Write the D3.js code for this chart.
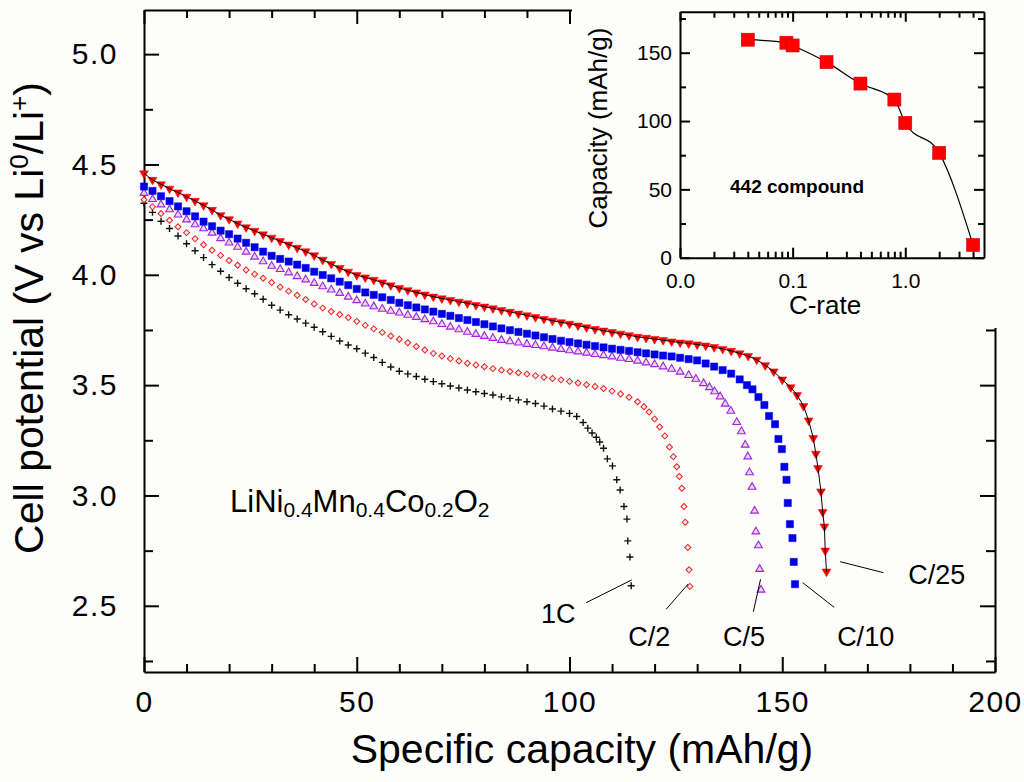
<!DOCTYPE html>
<html>
<head>
<meta charset="utf-8">
<script src="https://cdn.jsdelivr.net/npm/d3@7"></script>
<style>
  body { margin: 0; background: #fdfdfb; }
  svg { display: block; }
  text { font-family: "Liberation Sans", Arial, Helvetica, sans-serif; fill: #000; }
</style>
</head>
<body>
<div id="chart"></div>
<script>
// ---- data: [capacity mAh/g, potential V] ----
var rateC25 = [[0,4.46],[2,4.43],[4,4.41],[6,4.39],[8,4.373],[10,4.354],[12,4.335],[14,4.315],[16,4.294],[18,4.27],[20,4.252],[22,4.232],[24,4.215],[26,4.199],[28,4.183],[30,4.168],[32,4.153],[34,4.137],[36,4.122],[38,4.106],[40,4.088],[42,4.068],[44,4.049],[46,4.03],[48,4.014],[50,3.999],[52,3.988],[54,3.977],[56,3.965],[58,3.952],[60,3.94],[62,3.93],[64,3.92],[66,3.91],[68,3.901],[70,3.893],[72,3.886],[74,3.878],[76,3.871],[78,3.863],[80,3.856],[82,3.848],[84,3.84],[86,3.832],[88,3.824],[90,3.816],[92,3.808],[94,3.8],[96,3.792],[98,3.785],[100,3.778],[102,3.77],[104,3.762],[106,3.754],[108,3.747],[110,3.74],[112,3.733],[114,3.726],[116,3.719],[118,3.714],[120,3.709],[122,3.704],[124,3.698],[126,3.693],[128,3.689],[130,3.684],[132,3.679],[134,3.672],[136,3.664],[138,3.655],[140,3.644],[142,3.632],[144,3.615],[146,3.59],[148,3.562],[150,3.525],[152,3.49],[153.5,3.455],[155,3.405],[156.2,3.34],[157.3,3.26],[157.9,3.189],[158.4,3.124],[159.1,3.018],[159.5,2.925],[159.9,2.859],[160.1,2.75],[160.4,2.655]];

var rateC10 = [[0,4.4],[2,4.38],[4,4.356],[6,4.334],[8,4.31],[10,4.288],[12,4.265],[14,4.241],[16,4.22],[18,4.2],[20,4.184],[22,4.164],[24,4.145],[26,4.125],[28,4.105],[30,4.086],[32,4.072],[34,4.06],[36,4.046],[38,4.031],[40,4.014],[42,3.999],[44,3.984],[46,3.969],[48,3.953],[50,3.936],[52,3.92],[54,3.909],[56,3.898],[58,3.886],[60,3.873],[62,3.862],[64,3.852],[66,3.843],[68,3.833],[70,3.823],[72,3.814],[74,3.804],[76,3.795],[78,3.786],[80,3.776],[82,3.766],[84,3.757],[86,3.749],[88,3.741],[90,3.733],[92,3.725],[94,3.717],[96,3.709],[98,3.701],[100,3.695],[102,3.689],[104,3.683],[106,3.677],[108,3.671],[110,3.665],[112,3.66],[114,3.655],[116,3.649],[118,3.644],[120,3.639],[122,3.634],[124,3.63],[126,3.624],[128,3.618],[130,3.612],[132,3.598],[134,3.584],[136,3.568],[138,3.552],[140,3.526],[141.7,3.5],[143,3.481],[144.4,3.446],[145.8,3.41],[146.9,3.36],[148.3,3.323],[149.1,3.256],[149.9,3.21],[150.5,3.13],[151,3.071],[151.3,2.966],[151.8,2.87],[152.4,2.807],[152.7,2.699],[153,2.598]];

var rateC5 = [[0,4.37],[2,4.342],[4,4.318],[6,4.296],[8,4.272],[10,4.25],[12,4.228],[14,4.21],[16,4.19],[18,4.165],[20,4.145],[22,4.126],[24,4.104],[26,4.081],[28,4.06],[30,4.04],[32,4.025],[34,4.01],[36,3.993],[38,3.978],[40,3.962],[42,3.947],[44,3.932],[46,3.917],[48,3.9],[50,3.884],[52,3.869],[54,3.856],[56,3.845],[58,3.836],[60,3.828],[62,3.818],[64,3.808],[66,3.798],[68,3.788],[70,3.776],[72,3.764],[74,3.752],[76,3.741],[78,3.731],[80,3.722],[82,3.713],[84,3.704],[86,3.698],[88,3.692],[90,3.686],[92,3.681],[94,3.675],[96,3.669],[98,3.663],[100,3.657],[102,3.652],[104,3.646],[106,3.64],[108,3.635],[110,3.629],[112,3.623],[114,3.617],[116,3.61],[118,3.602],[120,3.594],[122,3.584],[124,3.573],[126,3.56],[128,3.545],[129.7,3.528],[131.5,3.508],[132.9,3.49],[134.1,3.471],[135.4,3.448],[136.6,3.415],[137.9,3.383],[139.3,3.332],[140.4,3.29],[141.3,3.229],[141.9,3.176],[142.3,3.104],[142.9,3.038],[143.5,2.93],[143.8,2.836],[144.4,2.773],[144.7,2.666],[145,2.572]];

var rateC2 = [[0,4.34],[2,4.308],[4,4.278],[6,4.247],[8,4.218],[10,4.191],[12,4.163],[14,4.136],[16,4.111],[18,4.088],[20,4.065],[22,4.043],[24,4.022],[26,4.003],[28,3.984],[30,3.965],[32,3.945],[34,3.926],[36,3.907],[38,3.888],[40,3.868],[42,3.849],[44,3.834],[46,3.82],[48,3.806],[50,3.789],[52,3.771],[54,3.755],[56,3.739],[58,3.723],[60,3.708],[62,3.692],[64,3.675],[66,3.659],[68,3.644],[70,3.632],[72,3.62],[74,3.609],[76,3.599],[78,3.591],[80,3.583],[82,3.575],[84,3.568],[86,3.562],[88,3.556],[90,3.55],[92,3.543],[94,3.536],[96,3.53],[98,3.524],[100,3.517],[102,3.51],[104,3.502],[106,3.494],[108,3.485],[110,3.473],[112,3.46],[114,3.445],[116,3.425],[117.5,3.402],[118.7,3.378],[120,3.347],[121.2,3.31],[122.4,3.27],[123.5,3.22],[124.4,3.176],[125.2,3.13],[125.8,3.086],[126.4,3.033],[126.9,2.95],[127.2,2.879],[127.8,2.764],[128.1,2.663],[128.3,2.588]];

var rate1C = [[0,4.324],[2,4.283],[4,4.243],[6,4.21],[8,4.176],[10,4.141],[12,4.109],[14,4.078],[16,4.046],[18,4.016],[20,3.988],[22,3.962],[24,3.937],[26,3.914],[28,3.889],[30,3.862],[32,3.84],[34,3.819],[36,3.8],[38,3.781],[40,3.762],[42,3.742],[44,3.721],[46,3.7],[48,3.682],[50,3.665],[52,3.645],[54,3.625],[56,3.603],[58,3.582],[60,3.563],[62,3.551],[64,3.539],[66,3.527],[68,3.516],[70,3.506],[72,3.496],[74,3.487],[76,3.478],[78,3.47],[80,3.462],[82,3.455],[84,3.447],[86,3.44],[88,3.433],[90,3.425],[92,3.417],[94,3.405],[96,3.392],[98,3.382],[100,3.372],[101.7,3.358],[103.2,3.331],[104.3,3.305],[105.3,3.283],[106.3,3.264],[107.1,3.242],[108,3.214],[108.9,3.166],[110.1,3.134],[111.1,3.071],[111.9,3.025],[112.8,2.95],[113.5,2.893],[113.7,2.794],[114.2,2.721],[114.5,2.591]];

// inset: capacity vs C-rate
var insetRates = [0.04, 0.088, 0.1, 0.2, 0.4, 0.8, 1.0, 2.0, 4.0];
var insetCapacity = [159.5, 157.3, 155.3, 143.1, 127.4, 115.7, 98.6, 76.7, 9.3];

// tick values
var capMajor = [0, 50, 100, 150, 200];
var capMinor = [10, 20, 30, 40, 60, 70, 80, 90, 110, 120, 130, 140, 160, 170, 180, 190];
var voltMajor = [2.5, 3.0, 3.5, 4.0, 4.5, 5.0];
var voltMinor = [2.25, 2.75, 3.25, 3.75, 4.25, 4.75];
var rateMajor = [0.01, 0.1, 1];
var rateMinor = [0.02, 0.03, 0.04, 0.05, 0.06, 0.07, 0.08, 0.09, 0.2, 0.3, 0.4, 0.5, 0.6, 0.7, 0.8, 0.9, 2, 3, 4];
var insetCapMajor = [0, 50, 100, 150];
var insetCapMinor = [25, 75, 125, 175];

// curve labels: name, text position [cap, V], leader line [[cap, V], [cap, V]]
var curveLabels = ["1C", "C/2", "C/5", "C/10", "C/25"];
var labelPos = [[93.3, 2.42], [113.8, 2.32], [136.1, 2.32], [162.9, 2.32], [179.6, 2.6]];
var leaderLines = [
  [[103.9, 2.514], [114.6, 2.617]],
  [[122.7, 2.484], [127.9, 2.599]],
  [[143.2, 2.473], [144.9, 2.62]],
  [[162.2, 2.493], [154.8, 2.605]],
  [[173.8, 2.65], [163.6, 2.7]]
];

var FONT = '"Liberation Sans", Arial, Helvetica, sans-serif';
var BG = "#fdfdfb";
var W = 1024, H = 782;

var svg = d3.select("#chart").append("svg")
    .attr("width", W)
    .attr("height", H);

svg.append("rect").attr("width", W).attr("height", H).attr("fill", BG);

var x = d3.scaleLinear().domain([0, 200]).range([144, 995]);
var y = d3.scaleLinear().domain([2.2, 5.2]).range([672, 10]);

// helper: draw an axis, style it
function drawAxis(axis, tx, ty, fontSize, keepDomain) {
    var g = svg.append("g")
        .attr("transform", "translate(" + tx + "," + ty + ")")
        .call(axis)
        .attr("font-family", FONT)
        .attr("font-size", fontSize);
    g.selectAll("line").attr("stroke", "#000").attr("stroke-width", 2);
    g.selectAll("text").attr("fill", "#000");
    if (keepDomain) {
        g.select(".domain").attr("stroke", "#000").attr("stroke-width", 2);
    } else {
        g.select(".domain").remove();
    }
    return g;
}

// main frame + ticks
drawAxis(d3.axisBottom(x).tickValues(capMajor).tickSize(-15).tickSizeOuter(0)
    .tickPadding(19).tickFormat(d3.format("d")), 0, 672, 30, true)
    .selectAll("text").attr("letter-spacing", 1.5);
drawAxis(d3.axisBottom(x).tickValues(capMinor).tickSize(-8).tickFormat(""), 0, 672, 10, false);
drawAxis(d3.axisTop(x).tickValues(capMajor).tickSize(-14).tickSizeOuter(0).tickFormat(""), 0, 10, 10, true);
drawAxis(d3.axisTop(x).tickValues(capMinor).tickSize(-8).tickFormat(""), 0, 10, 10, false);
drawAxis(d3.axisLeft(y).tickValues(voltMajor).tickSize(-15).tickSizeOuter(0)
    .tickPadding(26).tickFormat(d3.format(".1f")), 144, 0, 30, true)
    .selectAll("text").attr("letter-spacing", 1.5);
drawAxis(d3.axisLeft(y).tickValues(voltMinor).tickSize(-9).tickFormat(""), 144, 0, 10, false);
drawAxis(d3.axisRight(y).tickValues(voltMajor).tickSize(-15).tickSizeOuter(0).tickFormat(""), 995, 0, 10, true);
drawAxis(d3.axisRight(y).tickValues(voltMinor).tickSize(-9).tickFormat(""), 995, 0, 10, false);

// axis titles
svg.append("text")
    .attr("x", 582)
    .attr("y", 763)
    .attr("text-anchor", "middle")
    .attr("font-size", 41)
    .text("Specific capacity (mAh/g)");

var yTitle = svg.append("text")
    .attr("transform", "translate(43,318) rotate(-90)")
    .attr("text-anchor", "middle")
    .attr("font-size", 41);
yTitle.append("tspan").text("Cell potential (V vs Li");
yTitle.append("tspan").attr("font-size", 26).attr("dy", -15).text("0");
yTitle.append("tspan").attr("dy", 15).text("/Li");
yTitle.append("tspan").attr("font-size", 26).attr("dy", -15).text("+");
yTitle.append("tspan").attr("dy", 15).text(")");

// ---- inset ----
// panel hides the main frame behind it
svg.append("rect")
    .attr("x", 572).attr("y", 0)
    .attr("width", W - 572).attr("height", 328)
    .attr("fill", BG);

var xi = d3.scaleLog().domain([0.01, 5]).range([680, 984]);
var yi = d3.scaleLinear().domain([0, 180]).range([257.7, 11.7]);

drawAxis(d3.axisBottom(xi).tickValues(rateMajor).tickSize(-10).tickSizeOuter(0)
    .tickPadding(15).tickFormat(d3.format(".1f")), 0, 257.7, 21, true);
drawAxis(d3.axisBottom(xi).tickValues(rateMinor).tickSize(-6).tickFormat(""), 0, 257.7, 10, false);
drawAxis(d3.axisTop(xi).tickValues(rateMajor).tickSize(-10).tickSizeOuter(0).tickFormat(""), 0, 11.7, 10, true);
drawAxis(d3.axisTop(xi).tickValues(rateMinor).tickSize(-6).tickFormat(""), 0, 11.7, 10, false);
drawAxis(d3.axisLeft(yi).tickValues(insetCapMajor).tickSize(-10).tickSizeOuter(0)
    .tickPadding(8).tickFormat(d3.format("d")), 680, 0, 21, true);
drawAxis(d3.axisLeft(yi).tickValues(insetCapMinor).tickSize(-6).tickFormat(""), 680, 0, 10, false);
drawAxis(d3.axisRight(yi).tickValues(insetCapMajor).tickSize(-10).tickSizeOuter(0).tickFormat(""), 984, 0, 10, true);
drawAxis(d3.axisRight(yi).tickValues(insetCapMinor).tickSize(-6).tickFormat(""), 984, 0, 10, false);

var insetData = insetRates.map(function (r, i) { return { rate: r, cap: insetCapacity[i] }; });

var insetLine = d3.line()
    .x(function (d) { return xi(d.rate); })
    .y(function (d) { return yi(d.cap); })
    .curve(d3.curveMonotoneX);

svg.append("path")
    .datum(insetData)
    .attr("d", insetLine)
    .attr("fill", "none")
    .attr("stroke", "#000")
    .attr("stroke-width", 1.2);

svg.selectAll(".insetPt")
    .data(insetData)
    .enter().append("rect")
    .attr("class", "insetPt")
    .attr("x", function (d) { return xi(d.rate) - 6.5; })
    .attr("y", function (d) { return yi(d.cap) - 6.5; })
    .attr("width", 13)
    .attr("height", 13)
    .attr("fill", "#ff0000")
    .attr("stroke", "#d00000")
    .attr("stroke-width", 0.6);

svg.append("text")
    .attr("x", 730).attr("y", 193)
    .attr("font-size", 19)
    .attr("font-weight", "bold")
    .text("442 compound");

svg.append("text")
    .attr("x", 825).attr("y", 314)
    .attr("text-anchor", "middle")
    .attr("font-size", 26)
    .text("C-rate");

svg.append("text")
    .attr("transform", "translate(607,128) rotate(-90)")
    .attr("text-anchor", "middle")
    .attr("font-size", 26)
    .text("Capacity (mAh/g)");

// ---- discharge curves ----
function markers(data, cls, draw) {
    var g = svg.append("g").attr("class", cls);
    g.selectAll("path")
        .data(data)
        .enter().append("path")
        .attr("transform", function (d) { return "translate(" + x(d[0]) + "," + y(d[1]) + ")"; })
        .call(draw);
}

// 1C: black plus
markers(rate1C, "c1", function (s) {
    s.attr("d", "M-3.5,0H3.5M0,-3.5V3.5")
        .attr("stroke", "#111")
        .attr("stroke-width", 1.4)
        .attr("fill", "none");
});

// C/2: open red diamonds
markers(rateC2, "c2", function (s) {
    s.attr("d", d3.symbol().type(d3.symbolSquare).size(18))
        .attr("transform", function (d) { return "translate(" + x(d[0]) + "," + y(d[1]) + ") rotate(45)"; })
        .attr("stroke", "#f02020")
        .attr("stroke-width", 1)
        .attr("fill", "#ececec");
});

// C/5: open purple triangles
markers(rateC5, "c5", function (s) {
    s.attr("d", d3.symbol().type(d3.symbolTriangle).size(26))
        .attr("stroke", "#a820e0")
        .attr("stroke-width", 1.1)
        .attr("fill", "#dcdcdc");
});

// C/10: blue squares
markers(rateC10, "c10", function (s) {
    s.attr("d", d3.symbol().type(d3.symbolSquare).size(52))
        .attr("fill", "#0000e6")
        .attr("stroke", "#0000e6")
        .attr("stroke-width", 0.5);
});

// C/25: red down triangles with a black line through them
markers(rateC25, "c25", function (s) {
    s.attr("d", d3.symbol().type(d3.symbolTriangle).size(34))
        .attr("transform", function (d) { return "translate(" + x(d[0]) + "," + y(d[1]) + ") rotate(180)"; })
        .attr("fill", "#ff0000")
        .attr("stroke", "#ff0000")
        .attr("stroke-width", 0.5);
});

var vLine = d3.line()
    .x(function (d) { return x(d[0]); })
    .y(function (d) { return y(d[1]); });

svg.append("path")
    .datum(rateC25)
    .attr("d", vLine)
    .attr("fill", "none")
    .attr("stroke", "#000")
    .attr("stroke-width", 1);

// curve labels and leader lines
leaderLines.forEach(function (seg) {
    svg.append("line")
        .attr("x1", x(seg[0][0])).attr("y1", y(seg[0][1]))
        .attr("x2", x(seg[1][0])).attr("y2", y(seg[1][1]))
        .attr("stroke", "#000")
        .attr("stroke-width", 1);
});

curveLabels.forEach(function (name, i) {
    svg.append("text")
        .attr("x", x(labelPos[i][0]))
        .attr("y", y(labelPos[i][1]))
        .attr("font-size", 27)
        .text(name);
});

// compound formula
var formula = svg.append("text")
    .attr("x", 230).attr("y", 512)
    .attr("font-size", 31);
formula.append("tspan").text("LiNi");
formula.append("tspan").attr("font-size", 21).attr("dy", 5).text("0.4");
formula.append("tspan").attr("dy", -5).text("Mn");
formula.append("tspan").attr("font-size", 21).attr("dy", 5).text("0.4");
formula.append("tspan").attr("dy", -5).text("Co");
formula.append("tspan").attr("font-size", 21).attr("dy", 5).text("0.2");
formula.append("tspan").attr("dy", -5).text("O");
formula.append("tspan").attr("font-size", 21).attr("dy", 5).text("2");
</script>
</body>
</html>
